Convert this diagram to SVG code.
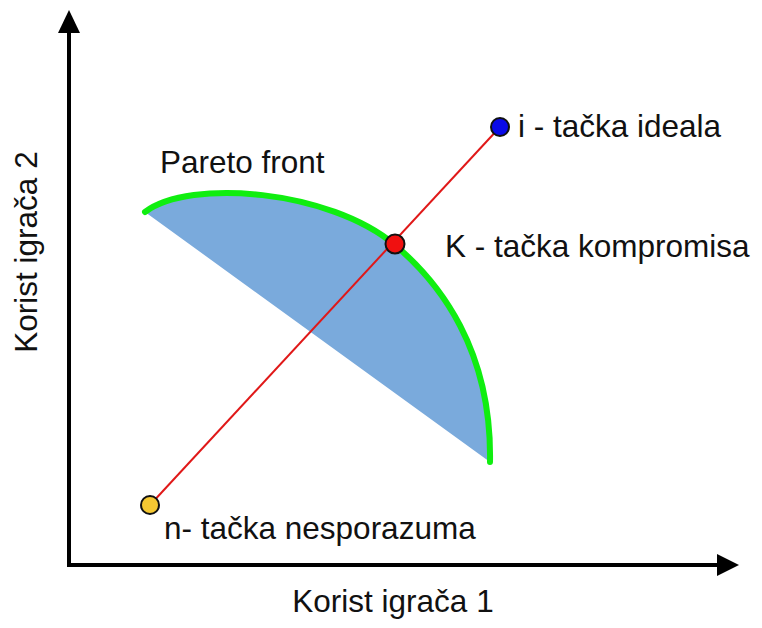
<svg xmlns="http://www.w3.org/2000/svg" width="762" height="628" viewBox="0 0 762 628">
<style>
text{font-family:"Liberation Sans",Arial,sans-serif;font-size:31.5px;fill:#111}
.axis{stroke:#000;stroke-width:4;fill:none}
.pt{stroke:#111;stroke-width:2}
</style>
<rect width="762" height="628" fill="#fff"/>
<g id="axes">
<line class="axis" x1="69" y1="567" x2="69" y2="30"/>
<polygon points="69,10 58,33 80,33" fill="#000"/>
<line class="axis" x1="67" y1="565" x2="718" y2="565"/>
<polygon points="739,565 717,554 717,576" fill="#000"/>
<text x="393" y="612" text-anchor="middle">Korist igrača 1</text>
<text transform="translate(37,252) rotate(-90)" text-anchor="middle">Korist igrača 2</text>
</g>
<g id="pareto">
<path d="M145,212 C190,178 330,190 395,245 C440,283 492,350 490,462 Z" fill="#7aaadc"/>
<path d="M145,212 C190,178 330,190 395,245 C440,283 492,350 490,462" fill="none" stroke="#10ee10" stroke-width="6" stroke-linecap="round"/>
<text x="160" y="173">Pareto front</text>
</g>
<g id="connectors">
<line x1="150" y1="505" x2="500" y2="127" stroke="#e01818" stroke-width="2"/>
</g>
<g id="node-i">
<circle class="pt" cx="500" cy="127" r="9" fill="#0a0ae8"/>
<text x="518" y="137">i - tačka ideala</text>
</g>
<g id="node-K">
<circle class="pt" cx="395" cy="244" r="9.5" fill="#f01010"/>
<text x="445" y="257">K - tačka kompromisa</text>
</g>
<g id="node-n">
<circle class="pt" cx="150" cy="505" r="9" fill="#f5c832"/>
<text x="164" y="539">n- tačka nesporazuma</text>
</g>
</svg>
